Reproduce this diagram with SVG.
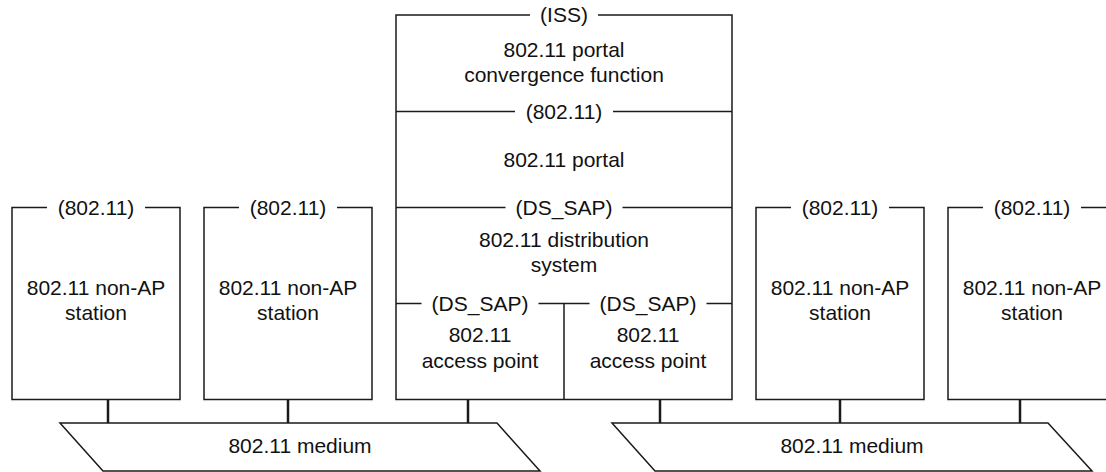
<svg xmlns="http://www.w3.org/2000/svg" width="1106" height="472" viewBox="0 0 1106 472">
<style>
  .ln{fill:none;stroke:#1a1a1a;stroke-width:1.5}
  .stub{fill:none;stroke:#1a1a1a;stroke-width:2.5}
  text{font-family:"Liberation Sans",Arial,sans-serif;font-size:21px;fill:#111;text-anchor:middle}
</style>
<rect width="1106" height="472" fill="#fff"/>
<g id="connectors">
  <line class="stub" x1="108" y1="399" x2="108" y2="423"/>
  <line class="stub" x1="288" y1="399" x2="288" y2="423"/>
  <line class="stub" x1="468" y1="399" x2="468" y2="423"/>
  <line class="stub" x1="660" y1="399" x2="660" y2="423"/>
  <line class="stub" x1="840" y1="399" x2="840" y2="423"/>
  <line class="stub" x1="1020" y1="399" x2="1020" y2="423"/>
</g>
<g id="station1">
  <path class="ln" d="M47,207.5 H12 V399.5 H180 V207.5 H145"/>
  <text x="96" y="214.5">(802.11)</text>
  <text x="96" y="294.5">802.11 non-AP</text>
  <text x="96" y="320">station</text>
</g>
<g id="station2">
  <path class="ln" d="M239,207.5 H204 V399.5 H372 V207.5 H337"/>
  <text x="288" y="214.5">(802.11)</text>
  <text x="288" y="294.5">802.11 non-AP</text>
  <text x="288" y="320">station</text>
</g>
<g id="station3">
  <path class="ln" d="M791,207.5 H756 V399.5 H924 V207.5 H889"/>
  <text x="840" y="214.5">(802.11)</text>
  <text x="840" y="294.5">802.11 non-AP</text>
  <text x="840" y="320">station</text>
</g>
<g id="station4">
  <path class="ln" d="M983,207.5 H948 V399.5 H1116 V207.5 H1081"/>
  <text x="1032" y="214.5">(802.11)</text>
  <text x="1032" y="294.5">802.11 non-AP</text>
  <text x="1032" y="320">station</text>
</g>
<g id="portal-stack">
  <path class="ln" d="M530,15 H396 V399.5 H732 V15 H598"/>
  <text x="564" y="22">(ISS)</text>
  <text x="564" y="57">802.11 portal</text>
  <text x="564" y="82">convergence function</text>
  <path class="ln" d="M396,111.5 H515 M613,111.5 H732"/>
  <text x="564" y="118.5">(802.11)</text>
  <text x="564" y="166.5">802.11 portal</text>
  <path class="ln" d="M396,207.5 H505.5 M622.5,207.5 H732"/>
  <text x="564" y="214.5">(DS_SAP)</text>
  <text x="564" y="246.5">802.11 distribution</text>
  <text x="564" y="272">system</text>
</g>
<g id="ap1">
  <path class="ln" d="M396,303.5 H421.5 M538.5,303.5 H564 V399.5"/>
  <text x="480" y="310.5">(DS_SAP)</text>
  <text x="480" y="342">802.11</text>
  <text x="480" y="368">access point</text>
</g>
<g id="ap2">
  <path class="ln" d="M564,303.5 H589.5 M706.5,303.5 H732"/>
  <text x="648" y="310.5">(DS_SAP)</text>
  <text x="648" y="342">802.11</text>
  <text x="648" y="368">access point</text>
</g>
<g id="medium1">
  <polygon class="ln" points="60,423 497,423 540,471 103,471"/>
  <text x="300" y="453">802.11 medium</text>
</g>
<g id="medium2">
  <polygon class="ln" points="612,423 1048,423 1092,471 655,471"/>
  <text x="852" y="453">802.11 medium</text>
</g>
</svg>
